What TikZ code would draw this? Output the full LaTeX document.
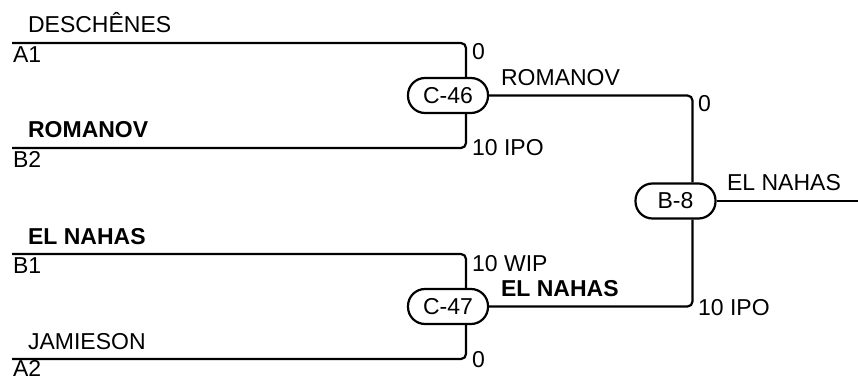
\documentclass[tikz,border=0pt]{standalone}
\usepackage{fontspec}
\setmainfont{Liberation Sans}
\begin{document}
\begin{tikzpicture}[x=1pt,y=-1pt,
      line width=2.2pt,
      font=\fontsize{23}{27}\selectfont,
      wire/.style={rounded corners=5pt},
      game/.style={draw,fill=white,rounded corners=17pt,minimum width=80pt,
        minimum height=35pt,inner sep=0pt},
      lbl/.style={anchor=base west,inner sep=0pt}]
      \useasboundingbox (0,0) rectangle (858,379);
      % games
      \node[game] (c46) at (448,95.5) {C-46};
      \node[game] (c47) at (448,306.5) {C-47};
      \node[game] (b8) at (675.5,201) {B-8};
      % entries
      \coordinate (a1) at (12,43);
      \coordinate (b2) at (12,148);
      \coordinate (b1) at (12,254);
      \coordinate (a2) at (12,359);
      \coordinate (out) at (858,201);
      \draw[wire] (a1) -| ([xshift=18pt]c46.north);
      \draw[wire] (b2) -| ([xshift=18pt]c46.south);
      \draw[wire] (b1) -| ([xshift=18pt]c47.north);
      \draw[wire] (a2) -| ([xshift=18pt]c47.south);
      \draw[wire] (c46.east) -| ([xshift=17pt]b8.north);
      \draw[wire] (c47.east) -| ([xshift=17pt]b8.south);
      \draw (b8.east) -- (out);
      % names
      \node[lbl] (nA1) at (27,33) {DESCHÊNES};
      \node[lbl] (nB2) at (27,138) {\bfseries ROMANOV};
      \node[lbl] (nB1) at (27,244) {\bfseries EL NAHAS};
      \node[lbl] (nA2) at (27,349) {JAMIESON};
      \node[lbl] (sA1) at (12,62.5) {A1};
      \node[lbl] (sB2) at (12,167.5) {B2};
      \node[lbl] (sB1) at (12,273) {B1};
      \node[lbl] (sA2) at (12,376.5) {A2};
      \node[lbl] (w46) at (500,85.5) {ROMANOV};
      \node[lbl] (w47) at (500,296.5) {\bfseries EL NAHAS};
      \node[lbl] (w8) at (726,191) {EL NAHAS};
      % scores
      \node[lbl] (rA1) at (471,59.5) {0};
      \node[lbl] (rB2) at (471,156) {10 IPO};
      \node[lbl] (rB1) at (471,271) {10 WIP};
      \node[lbl] (rA2) at (471,367) {0};
      \node[lbl] (r46) at (697,112) {0};
      \node[lbl] (r47) at (697,315) {10 IPO};
\end{tikzpicture}
\end{document}
